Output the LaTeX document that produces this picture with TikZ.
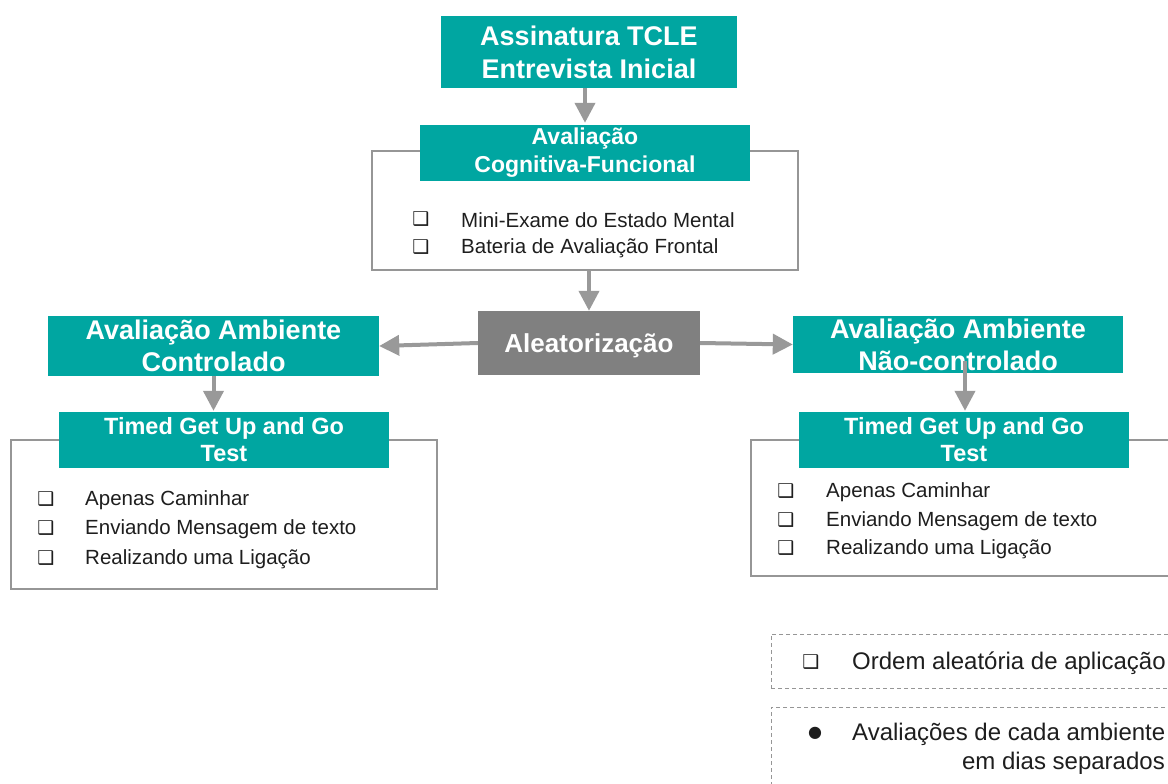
\documentclass[tikz,border=0pt]{standalone}
\usepackage{fontspec}
\setmainfont{Liberation Sans}
\newfontfamily\symfont{DejaVu Sans}
\usetikzlibrary{arrows.meta,calc}
\definecolor{tealc}{RGB}{0,166,161}
\definecolor{grayc}{RGB}{128,128,128}
\definecolor{arrowc}{RGB}{153,153,153}
\definecolor{linec}{RGB}{150,150,150}
\definecolor{txt}{RGB}{30,30,30}
\newcommand{\fs}[2]{\fontsize{#1}{#2}\selectfont}
\newcommand{\cbox}{{\symfont\fs{19}{21}❑}}
\begin{document}
\begin{tikzpicture}[x=1pt,y=-1pt,
  hdr/.style={fill=tealc,text=white,align=center,inner sep=0pt,font=\bfseries},
  frame/.style={draw=linec,line width=1.3pt,fill=white,inner sep=0pt},
  dframe/.style={draw=linec,line width=1pt,dash pattern=on 4pt off 3pt,inner sep=0pt},
  arr/.style={draw=arrowc,line width=4pt,-{Triangle[width=20pt,length=20pt]}},
  item/.style={anchor=west,text=txt,inner sep=0pt,font=\fs{20.5}{24}},
  chk/.style={anchor=center,text=txt,inner sep=0pt}
]
\useasboundingbox (0,0) rectangle (1168,784);
\clip (0,0) rectangle (1168,784);
\fill[white] (0,0) rectangle (1168,784);

% top
\node[hdr,minimum width=296pt,minimum height=72pt,font=\bfseries\fs{27}{33}] (top) at (589,52) {Assinatura TCLE\\Entrevista Inicial};

% cognitive
\node[frame,minimum width=426pt,minimum height=119pt] (cogbox) at (585,210.5) {};
\node[hdr,minimum width=330pt,minimum height=56pt,font=\bfseries\fs{23}{28}] (cog) at (585,153) {Avaliação\\Cognitiva-Funcional};
\draw[draw=none] (cog.north west) rectangle (cog.south east);
\node[chk] (c1) at (421,219) {\cbox};
\node[item] (i1) at (461,220) {Mini-Exame do Estado Mental};
\node[chk] (c2) at (421,247) {\cbox};
\node[item] (i2) at (461,248) {Bateria de Avaliação Frontal};

% randomization
\node[fill=grayc,text=white,minimum width=222pt,minimum height=64pt,inner sep=0pt,text height=19pt,text depth=0pt,font=\bfseries\fs{26}{30}] (alea) at (589,343) {Aleatorização};

% environments
\node[hdr,minimum width=331pt,minimum height=60pt,font=\bfseries\fs{27}{32}] (ambL) at (213.5,346) {Avaliação Ambiente\\Controlado};
\node[hdr,minimum width=330pt,minimum height=57pt,font=\bfseries\fs{27}{32}] (ambR) at (958,344.5) {Avaliação Ambiente\\Não-controlado};

% TUG left
\node[frame,minimum width=426pt,minimum height=149pt] (tugLbox) at (224,514.5) {};
\node[hdr,minimum width=330pt,minimum height=56pt,font=\bfseries\fs{23.5}{27}] (tugL) at (224,440) {Timed Get Up and Go\\Test};
\node[chk] (l1) at (46,499) {\cbox};
\node[item] (lt1) at (85,500) {Apenas Caminhar};
\node[chk] (l2) at (46,528) {\cbox};
\node[item] (lt2) at (85,529) {Enviando Mensagem de texto};
\node[chk] (l3) at (46,558) {\cbox};
\node[item] (lt3) at (85,559) {Realizando uma Ligação};

% TUG right
\node[frame,minimum width=430pt,minimum height=136pt] (tugRbox) at (966,508) {};
\node[hdr,minimum width=330pt,minimum height=56pt,font=\bfseries\fs{23.5}{27}] (tugR) at (964,440) {Timed Get Up and Go\\Test};
\node[chk] (r1) at (786,491) {\cbox};
\node[item] (rt1) at (826,492) {Apenas Caminhar};
\node[chk] (r2) at (786,520) {\cbox};
\node[item] (rt2) at (826,521) {Enviando Mensagem de texto};
\node[chk] (r3) at (786,548) {\cbox};
\node[item] (rt3) at (826,549) {Realizando uma Ligação};

% dashed notes
\node[dframe,minimum width=420pt,minimum height=54pt] (d1) at (981,661) {};
\node[chk] (dc1) at (811,662) {\cbox};
\node[item,font=\fs{24}{28}] (dt1) at (852,663) {Ordem aleatória de aplicação};
\node[dframe,minimum width=420pt,minimum height=100pt] (d2) at (981,757) {};
\node[chk,font=\symfont\fs{16}{18}] (db) at (815,733) {●};
\node[item,font=\fs{24}{28}] (dt2a) at (852,734) {Avaliações de cada ambiente};
\node[item,anchor=east,font=\fs{24}{28}] (dt2b) at (1165,763) {em dias separados};

% connectors
\draw[arr] (cog.north |- top.south) -- ($(cog.north)+(0,-2)$);
\draw[arr] (alea.north |- cogbox.south) -- (alea.north);
\draw[arr] (alea.west) -- (ambL.east);
\draw[arr] (alea.east) -- (ambR.west);
\draw[arr] (ambL.south) -- ($(ambL.south |- tugL.north)+(0,-1)$);
\coordinate (rs) at ($(ambR.south)+(7,-12)$);
\draw[arr] (rs) -- ($(rs |- tugR.north)+(0,-1)$);
\end{tikzpicture}
\end{document}
